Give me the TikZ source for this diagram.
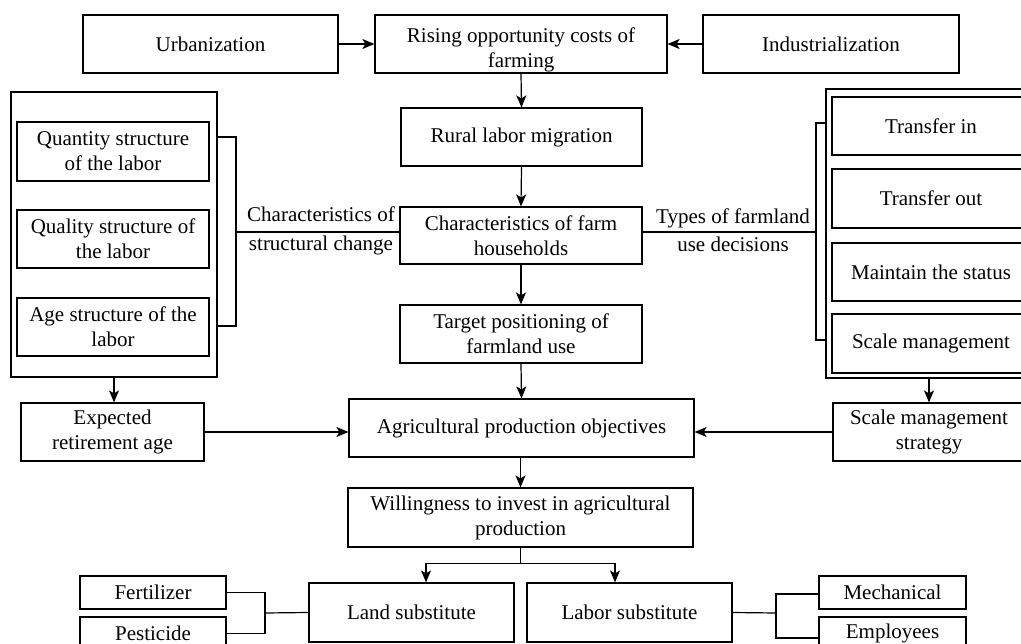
\documentclass[tikz,border=0pt]{standalone}
\usepackage{fontspec}
\setmainfont{Liberation Serif}
\usetikzlibrary{arrows.meta}
\begin{document}
\begin{tikzpicture}[x=1pt,y=-1pt,
  box/.style={draw, line width=1.2pt, align=center, inner sep=0pt,
    font=\fontsize{21}{25}\selectfont},
  lbl/.style={align=center, inner sep=0pt, font=\fontsize{21}{28.5}\selectfont},
  arr/.style={-{Stealth[length=12pt,width=10pt,inset=3pt]}, line width=1.2pt},
  ln/.style={line width=1.2pt}]
\useasboundingbox (0,0) rectangle (1021,644);
\clip (0,0) rectangle (1021,644);
% top row
\node[box, minimum width=255pt, minimum height=58pt] (urb) at (210.5,44) {Urbanization};
\node[box, minimum width=292pt, minimum height=58pt] (rise) at (521,44) {\rule{0pt}{26pt}Rising opportunity costs of\\farming};
\node[box, minimum width=256pt, minimum height=58pt] (ind) at (831,44) {Industrialization};
% centre column
\node[box, minimum width=241pt, minimum height=58pt] (rural) at (521.5,137) {Rural labor migration};
\node[box, minimum width=242pt, minimum height=57pt] (char) at (521,235.5) {Characteristics of farm\\households};
\node[box, minimum width=242pt, minimum height=58pt] (target) at (521,334) {Target positioning of\\farmland use};
\node[box, minimum width=345pt, minimum height=58pt] (agri) at (521.5,428) {Agricultural production objectives};
\node[box, minimum width=345pt, minimum height=59pt] (will) at (520.5,517.5) {Willingness to invest in agricultural\\production};
\node[box, minimum width=205pt, minimum height=59pt] (land) at (411.5,612.5) {Land substitute};
\node[box, minimum width=205pt, minimum height=59pt] (labor) at (629.5,612.5) {Labor substitute};
% left group
\node[box, minimum width=206pt, minimum height=285pt] (lo) at (114,234.5) {};
\node[box, minimum width=192pt, minimum height=59pt] (qty) at (113,151.5) {Quantity structure\\of the labor};
\node[box, minimum width=192pt, minimum height=58pt] (qual) at (113,239) {Quality structure of\\the labor};
\node[box, minimum width=192pt, minimum height=58pt] (age) at (113,327) {Age structure of the\\labor};
\node[box, minimum width=183pt, minimum height=58pt] (exp) at (112.5,432) {Expected\\retirement age};
% right group
\node[box, minimum width=210pt, minimum height=289pt] (ro) at (931,233.5) {};
\node[box, minimum width=198pt, minimum height=58pt] (tin) at (931,126) {Transfer in};
\node[box, minimum width=198pt, minimum height=59pt] (tout) at (931,198.5) {Transfer out};
\node[box, minimum width=198pt, minimum height=58pt] (maint) at (931,272) {Maintain the status};
\node[box, minimum width=198pt, minimum height=59pt] (scale) at (931,343.5) {Scale management};
\node[box, minimum width=192pt, minimum height=58pt] (strat) at (929,432) {Scale management\\strategy};
% bottom small boxes
\node[box, minimum width=146pt, minimum height=33pt] (fert) at (153,592.5) {Fertilizer};
\node[box, minimum width=146pt, minimum height=33pt] (pest) at (153,633.5) {Pesticide};
\node[box, minimum width=147pt, minimum height=33pt] (mech) at (892.5,592.5) {Mechanical};
\node[box, minimum width=147pt, minimum height=33pt] (empl) at (892.5,633.5) {Employees};
% labels
\node[lbl] (lblL) at (321,231) {Characteristics of\\structural change};
\node[lbl] (lblR) at (733,230) {Types of farmland\\use decisions};
% arrows
\draw[arr] (urb.east) -- (rise.west);
\draw[arr] (ind.west) -- (rise.east);
\draw[arr] (rise.south) -- (rural.north);
\draw[arr] (rural.south) -- (char.north);
\draw[arr] (char.south) -- (target.north);
\draw[arr] (target.south) -- (agri.north);
\draw[arr] (agri.south) -- (will.south |- agri.south) -- (will.north);
\draw[arr] (lo.south) -- (lo.south |- exp.north);
\draw[arr] (strat.north |- ro.south) -- (strat.north);
\draw[arr] (exp.east) -- (exp.east -| agri.west);
\draw[arr] (strat.west) -- (strat.west -| agri.east);
\draw[ln] (will.south) -- ([yshift=-16pt]will.south) coordinate (sp);
\draw[arr] (sp) -| ([xshift=14.5pt]land.north);
\draw[arr] (sp) -| ([xshift=-14.5pt]labor.north);
% left bracket
\coordinate (bl1) at (217,137);
\coordinate (bl2) at (217,326);
\coordinate (blm) at (236,232);
\draw[ln] (bl1) -| (blm) |- (bl2);
\draw[ln] (blm) -- (blm -| char.west);
% right bracket
\coordinate (br1) at (826,123);
\coordinate (br2) at (826,340);
\coordinate (brm) at (816,232);
\draw[ln] (br1) -| (brm) |- (br2);
\draw[ln] (char.east |- brm) -- (brm);
% bottom brackets
\coordinate (bbl) at (265,613);
\draw[ln] (fert.east) -| (bbl) |- (pest.east);
\draw[ln] (bbl) -- (land.west);
\coordinate (bbr) at (776,613);
\draw[ln] ([yshift=-1.5pt]mech.west) -| (bbr) |- ([yshift=-4.5pt]empl.west);
\draw[ln] (labor.east) -- (bbr);
\end{tikzpicture}
\end{document}
